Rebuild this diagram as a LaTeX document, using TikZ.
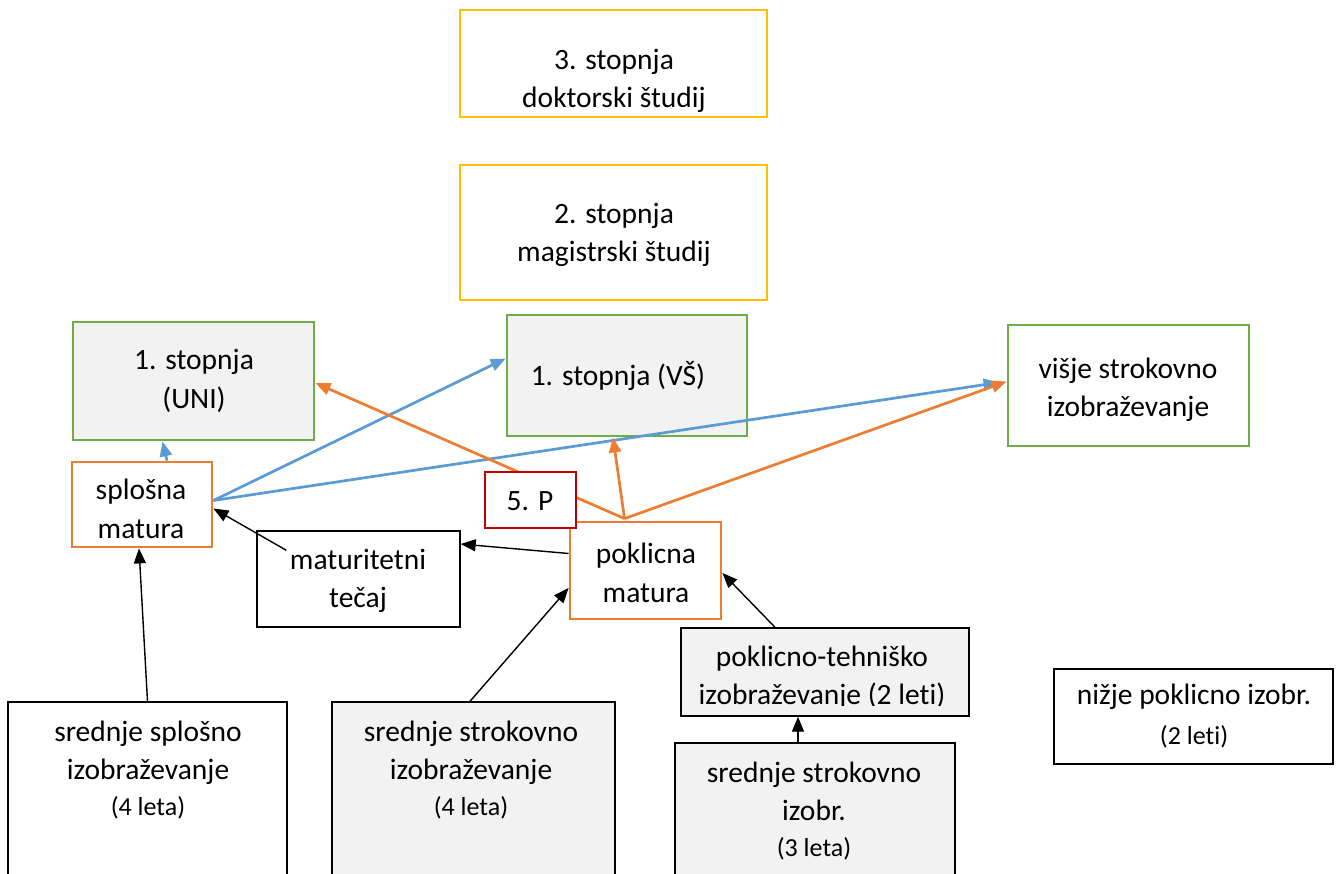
\documentclass[tikz,border=0pt]{standalone}
\usepackage{fontspec}
\setmainfont{Carlito}[Ligatures=NoCommon]
\usetikzlibrary{arrows.meta}
\definecolor{orng}{HTML}{ED7D31}
\definecolor{blu}{HTML}{5B9BD5}
\definecolor{grn}{HTML}{70AD47}
\definecolor{yel}{HTML}{FFC000}
\definecolor{redd}{HTML}{C00000}
\definecolor{lgray}{HTML}{F2F2F2}
\tikzset{
  box/.style={draw, inner sep=0pt, fill=white},
  plainbox/.style={box, draw=black, line width=1.4pt},
  graybox/.style={plainbox, fill=lgray},
  yelbox/.style={box, draw=yel, line width=2.5pt},
  grnbox/.style={box, draw=grn, line width=2.8pt},
  orgbox/.style={box, draw=orng, line width=2.8pt},
  redbox/.style={box, draw=redd, line width=2.8pt},
  txt/.style={inner sep=0pt, align=center, font=\fontsize{29.5}{38.5}\selectfont},
  arr/.style={-{Triangle[length=15pt,width=12pt]}},
  barr/.style={arr, line width=1.4pt, draw=black},
  oarr/.style={arr, line width=2.7pt, draw=orng},
  blarr/.style={arr, line width=2.7pt, draw=blu},
}
\newcommand{\sm}[1]{{\fontsize{26}{34}\selectfont #1}}
\begin{document}
\begin{tikzpicture}[x=1pt,y=-1pt]
\useasboundingbox (0,0) rectangle (1341,874);
\clip (0,0) rectangle (1341,874);
\fill[white] (0,0) rectangle (1341,874);
% boxes
\node[yelbox, minimum width=307, minimum height=107] (d3) at (613.5,63.5) {};
\node[yelbox, minimum width=307, minimum height=135] (d2) at (613.5,232.5) {};
\node[grnbox, fill=lgray, minimum width=241, minimum height=118] (uni) at (193.5,381) {};
\node[grnbox, fill=lgray, minimum width=240, minimum height=121] (vs) at (627,375.5) {};
\node[grnbox, minimum width=241, minimum height=121] (vis) at (1128.5,385.5) {};
\node[orgbox, minimum width=140, minimum height=85] (sm) at (142,504.5) {};
\node[plainbox, minimum width=203, minimum height=96] (mt) at (358.5,579) {};
\node[orgbox, minimum width=151, minimum height=97] (pm) at (645.5,570.5) {};
\node[graybox, minimum width=288, minimum height=88] (pt) at (825,672) {};
\node[plainbox, minimum width=279, minimum height=190] (ssi) at (147.5,797) {};
\node[graybox, minimum width=283, minimum height=190] (sst) at (473.5,797) {};
\node[graybox, minimum width=280, minimum height=150] (ss3) at (815,818) {};
\node[plainbox, minimum width=279, minimum height=95] (np) at (1193.5,716.5) {};
% texts
\node[txt] (td3) at (614,81) {3. stopnja\\doktorski študij};
\node[txt] (td2) at (614,235) {2. stopnja\\magistrski študij};
\node[txt] (tuni) at (194,381) {1. stopnja\\(UNI)};
\node[txt] (tvs) at (618,376) {1. stopnja (VŠ)};
\node[txt] (tvis) at (1128,390) {višje strokovno\\izobraževanje};
\node[txt] (tsm) at (141,509) {splošna\\matura};
\node[txt] (tmt) at (358,581) {maturitetni\\tečaj};
\node[txt] (tpm) at (646,573) {poklicna\\matura};
\begin{scope}
\clip (681,628) rectangle (969,705);
\node[txt] (tpt) at (822,678) {poklicno-tehniško\\izobraževanje (2 leti)};
\end{scope}
\node[txt] (tssi) at (148,770) {srednje splošno\\izobraževanje\\[-3pt]\sm{(4 leta)}};
\node[txt] (tsst) at (471,770) {srednje strokovno\\izobraževanje\\[-3pt]\sm{(4 leta)}};
\node[txt] (tss3) at (814,811) {srednje strokovno\\izobr.\\[-3pt]\sm{(3 leta)}};
\node[txt] (tnp) at (1194,716) {nižje poklicno izobr.\\[2pt]\sm{(2 leti)}};
% connectors
\draw[blarr] ([xshift=25pt]sm.north) -- ([xshift=-31pt]uni.south);
\draw[blarr] ([yshift=4pt]sm.east) -- ([yshift=17pt]vs.west);
\draw[blarr] ([yshift=4pt]sm.east) -- ([xshift=-8pt,yshift=3pt]vis.west);
\draw[oarr] ([xshift=-21pt,yshift=2pt]pm.north) -- ([yshift=-2pt]uni.east);
\draw[oarr] ([xshift=-21pt,yshift=2pt]pm.north) -- ([xshift=-14pt]vs.south);
\draw[oarr] ([xshift=-21pt,yshift=2pt]pm.north) -- ([yshift=4pt]vis.west);
\draw[barr] ([xshift=30pt,yshift=-20pt]mt.north west) -- ([yshift=-4pt]sm.east);
\draw[barr] ([yshift=17pt]pm.west) -- ([yshift=35pt]mt.east);
\draw[barr] ([xshift=-3.5pt]sst.north) -- ([yshift=-17.5pt]pm.west);
\draw[barr] ([xshift=-50pt]pt.north) -- ([yshift=-2.5pt]pm.east);
\draw[barr] ([xshift=-17pt]ss3.north) -- ([xshift=-27pt]pt.south);
\draw[barr] (ssi.north) -- ([xshift=-3pt]sm.south);
% 5. P on top
\node[redbox, minimum width=91, minimum height=56] (p5) at (530.5,500) {};
\node[txt] (tp5) at (530,501) {5. P};
\end{tikzpicture}
\end{document}
